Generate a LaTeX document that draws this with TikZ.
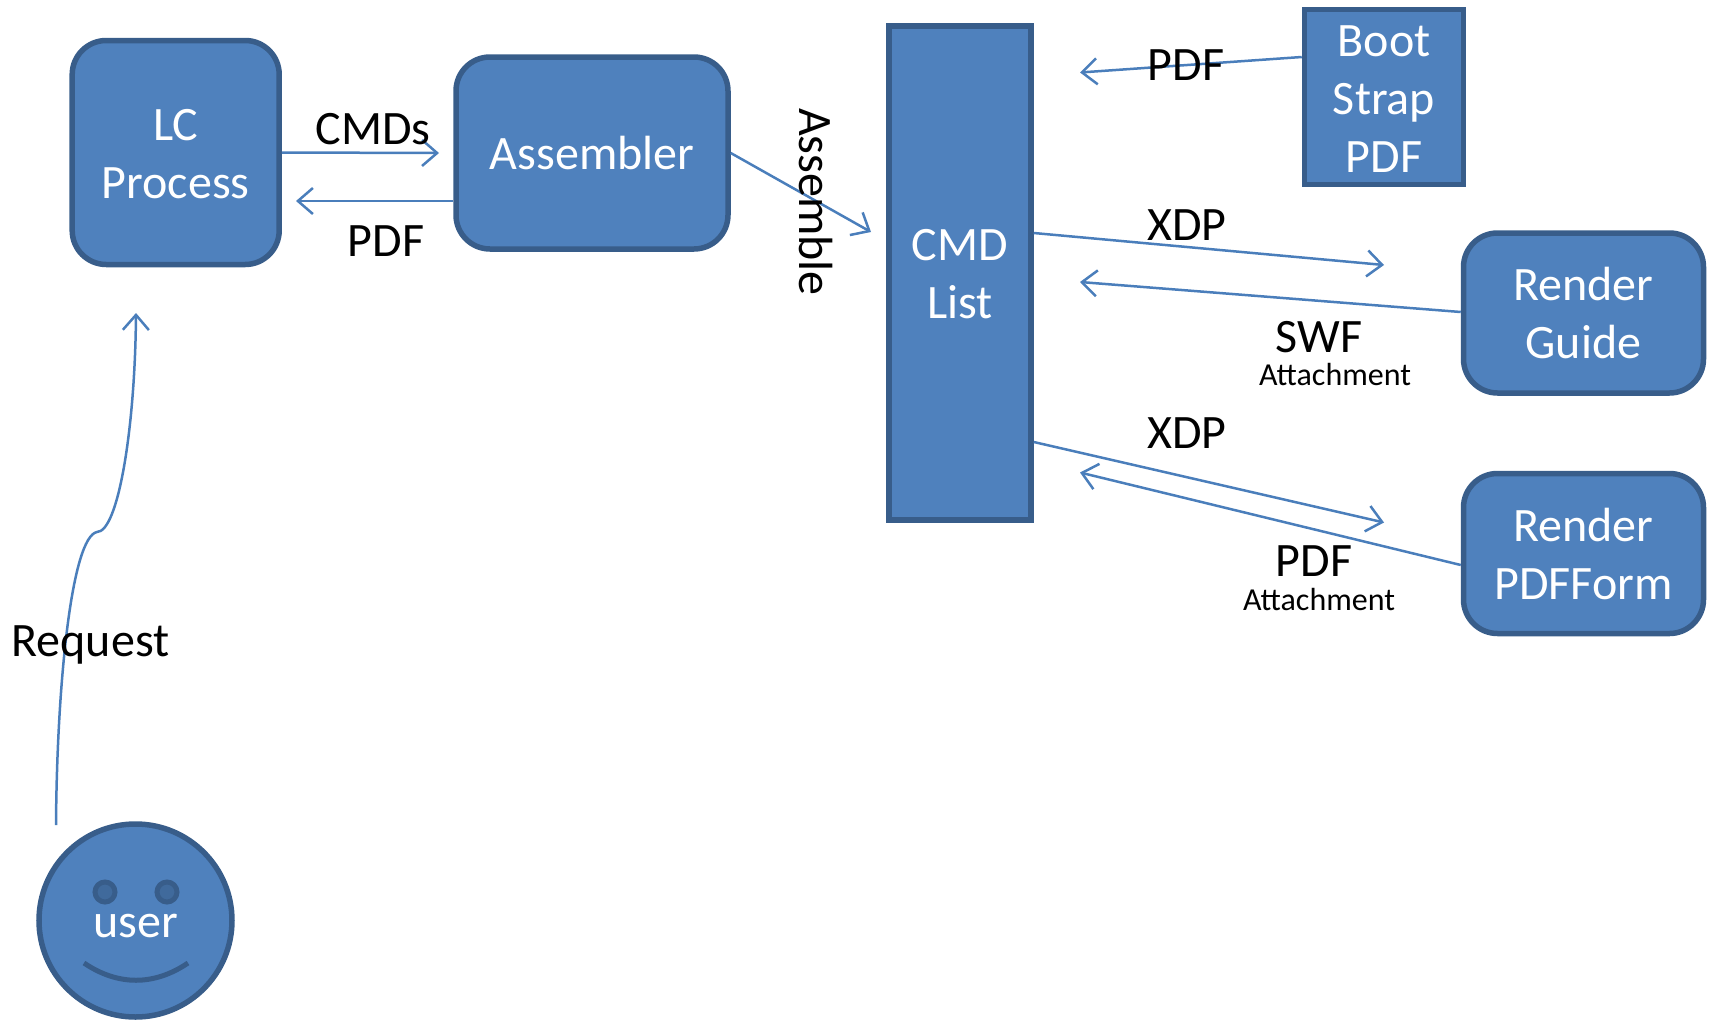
\documentclass[tikz,border=0pt]{standalone}
\usepackage{fontspec}
\setmainfont{Carlito}
\usetikzlibrary{arrows.meta}
\definecolor{boxfill}{HTML}{4F81BD}
\definecolor{boxedge}{HTML}{385D8A}
\definecolor{linkcol}{HTML}{4A7EBB}
\definecolor{eyefill}{HTML}{406A9C}
\newcommand{\bigfont}{\fontsize{48}{58}\selectfont}
\newcommand{\smallfont}{\fontsize{32}{38}\selectfont}
\newcommand{\dnstrut}[1]{\rule{0pt}{#1pt}}
\tikzset{
  x=1pt,y=-1pt,
  box/.style={draw=boxedge,fill=boxfill,line width=5.5pt,text=white,font=\bigfont,align=center,inner sep=0pt,anchor=center},
  roundbox/.style={box,rounded corners=34pt},
  lbl/.style={font=\bigfont,text=black,inner sep=0pt,anchor=center},
  sublbl/.style={font=\smallfont,text=black,inner sep=0pt,anchor=center},
  link/.style={draw=linkcol,line width=2.5pt,-{Straight Barb[length=15pt,width=26pt,line width=2.5pt]}},
}
\begin{document}
\begin{tikzpicture}
\useasboundingbox (0,0) rectangle (1711,1020);
\node[roundbox,minimum width=207pt,minimum height=224pt] (lc) at (175.7,152.5) {\dnstrut{35}LC\\Process};
\node[roundbox,minimum width=272pt,minimum height=192pt] (asm) at (592,153) {Assembler};
\node[box,minimum width=142pt,minimum height=494pt] (cmd) at (960,273) {\dnstrut{33}CMD\\List};
\node[box,minimum width=159pt,minimum height=175pt] (boot) at (1384,97) {\dnstrut{35}Boot\\Strap\\PDF};
\node[roundbox,minimum width=240pt,minimum height=160pt] (guide) at (1583.5,313) {Render\\Guide};
\node[roundbox,minimum width=240pt,minimum height=160pt] (form) at (1583.5,553.5) {Render\\PDFForm};
\node[circle,draw=boxedge,fill=boxfill,line width=5.5pt,minimum size=193pt,inner sep=0pt] (user) at (135.5,920.5) {};
\node[circle,draw=boxedge,fill=eyefill,line width=5pt,minimum size=20pt,inner sep=0pt] (eyeL) at (105,892) {};
\node[circle,draw=boxedge,fill=eyefill,line width=5pt,minimum size=20pt,inner sep=0pt] (eyeR) at (167,892) {};
\draw[boxedge,line width=5pt] (84,963) .. controls (118,986) and (154,986) .. (188,963);
\node[text=white,font=\bigfont,inner sep=0pt] (userlbl) at (136,926.5) {user};

\coordinate (reqStart) at (56,825);
\coordinate (reqMid) at (97,532);
\coordinate (reqEnd) at (136,313);
\coordinate (cmdsEnd) at (439,153);
\coordinate (pdfEnd) at (296,201);
\coordinate (asmEnd) at (871,232);
\coordinate (bootEnd) at (1080,72.5);
\coordinate (xdpEnd) at (1384,265);
\coordinate (swfEnd) at (1080,282);
\coordinate (xdpTwoEnd) at (1384,522.5);
\coordinate (pdfTwoEnd) at (1080,472.5);

\draw[link] (reqStart) .. controls (57,680) and (72,537) .. (reqMid) .. controls (118,532) and (135,430) .. (reqEnd);
\draw[link] (lc.east) -- (cmdsEnd);
\draw[link] ([yshift=-48pt]asm.west) -- (pdfEnd);
\draw[link] (asm.east) -- (asmEnd);
\draw[link] ([yshift=40pt]boot.west) -- (bootEnd);
\draw[link] ([yshift=40pt]cmd.east) -- (xdpEnd);
\draw[link] ([yshift=1pt]guide.west) -- (swfEnd);
\draw[link] ([yshift=-169pt]cmd.east) -- (xdpTwoEnd);
\draw[link] ([yshift=-11.5pt]form.west) -- (pdfTwoEnd);

\node[lbl] (cmdsLbl) at (373,129) {CMDs};
\node[lbl] (pdfLbl) at (386,241) {PDF};
\node[lbl] (reqLbl) at (90.5,645) {Request};
\node[lbl,rotate=-90] (asmLbl) at (816,202) {Assemble};
\node[lbl] (bootLbl) at (1186,65) {PDF};
\node[lbl] (xdpLbl) at (1187,225) {XDP};
\node[lbl] (swfLbl) at (1319,337) {SWF};
\node[sublbl] (attA) at (1335,375) {Attachment};
\node[lbl] (xdpTwoLbl) at (1187,433) {XDP};
\node[lbl] (pdfTwoLbl) at (1314,561) {PDF};
\node[sublbl] (attB) at (1319,599) {Attachment};
\end{tikzpicture}
\end{document}
